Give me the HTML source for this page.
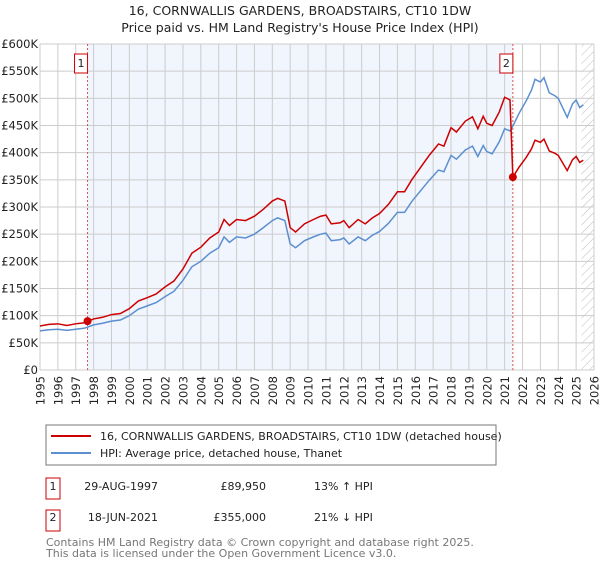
<!DOCTYPE html>
<html><head><meta charset="utf-8"><style>
body{margin:0;background:#fff;font-family:"Liberation Sans","DejaVu Sans",sans-serif;}
svg text{font-family:"DejaVu Sans","Liberation Sans",sans-serif;}
</style></head><body>
<svg width="600" height="560" xmlns="http://www.w3.org/2000/svg">
<defs><pattern id="hatch" width="6" height="6" patternUnits="userSpaceOnUse" patternTransform="rotate(45)"><line x1="0" y1="0" x2="0" y2="6" stroke="#bbb" stroke-width="1"/></pattern></defs>
<text x="300" y="15" font-size="12.5" text-anchor="middle" fill="#222">16, CORNWALLIS GARDENS, BROADSTAIRS, CT10 1DW</text>
<text x="300" y="32" font-size="12.5" text-anchor="middle" fill="#222">Price paid vs. HM Land Registry's House Price Index (HPI)</text>
<g id="plot"></g>
<rect x="46" y="425" width="450" height="40" fill="#fff" stroke="#777"/>
<line x1="51" y1="436" x2="91" y2="436" stroke="#cc0000" stroke-width="2"/>
<text x="100" y="440" font-size="11" fill="#222">16, CORNWALLIS GARDENS, BROADSTAIRS, CT10 1DW (detached house)</text>
<line x1="51" y1="453" x2="91" y2="453" stroke="#5b8fd0" stroke-width="2"/>
<text x="100" y="457" font-size="11" fill="#222">HPI: Average price, detached house, Thanet</text>
<g font-size="11" fill="#222">
<rect x="46" y="478" width="14" height="21" fill="#fff" stroke="#cc0000"/>
<text x="53" y="490" text-anchor="middle">1</text>
<text x="158" y="490" text-anchor="end">29-AUG-1997</text>
<text x="266" y="490" text-anchor="end">£89,950</text>
<text x="314" y="490">13% ↑ HPI</text>
<rect x="46" y="510" width="14" height="21" fill="#fff" stroke="#cc0000"/>
<text x="53" y="521" text-anchor="middle">2</text>
<text x="158" y="521" text-anchor="end">18-JUN-2021</text>
<text x="266" y="521" text-anchor="end">£355,000</text>
<text x="314" y="521">21% ↓ HPI</text>
</g>
<text x="46" y="546" font-size="11" fill="#777">Contains HM Land Registry data © Crown copyright and database right 2025.</text>
<text x="46" y="557" font-size="11" fill="#777">This data is licensed under the Open Government Licence v3.0.</text>
</svg>
<script>
const yearTicks=[1995,1996,1997,1998,1999,2000,2001,2002,2003,2004,2005,2006,2007,2008,2009,2010,2011,2012,2013,2014,2015,2016,2017,2018,2019,2020,2021,2022,2023,2024,2025,2026];
const priceTicks=[0,50,100,150,200,250,300,350,400,450,500,550,600];
const priceLabels=["£0","£50K","£100K","£150K","£200K","£250K","£300K","£350K","£400K","£450K","£500K","£550K","£600K"];
const hpiDates=[1995.0,1995.5,1996.0,1996.5,1997.0,1997.5,1998.0,1998.5,1999.0,1999.5,2000.0,2000.5,2001.0,2001.5,2002.0,2002.5,2003.0,2003.5,2004.0,2004.5,2005.0,2005.3,2005.6,2006.0,2006.5,2007.0,2007.5,2008.0,2008.3,2008.7,2009.0,2009.3,2009.8,2010.3,2010.7,2011.0,2011.3,2011.8,2012.0,2012.3,2012.8,2013.2,2013.6,2014.0,2014.5,2015.0,2015.4,2015.8,2016.3,2016.8,2017.3,2017.6,2018.0,2018.3,2018.8,2019.2,2019.5,2019.8,2020.0,2020.3,2020.7,2021.0,2021.3,2021.46,2021.8,2022.2,2022.5,2022.7,2023.0,2023.2,2023.5,2023.8,2024.0,2024.5,2024.8,2025.0,2025.2,2025.4];
const hpiValues=[72,74,75,73,75,77,83,86,90,92,100,112,118,124,135,145,165,190,200,215,225,245,235,245,243,250,262,275,280,275,232,225,238,245,250,252,238,240,243,232,245,238,248,255,270,290,290,310,330,350,368,365,395,388,405,412,393,413,402,398,420,444,440,449,472,495,515,535,530,538,510,505,500,465,490,497,483,488];
const propDates=[1995.0,1995.5,1996.0,1996.5,1997.0,1997.5,1998.0,1998.5,1999.0,1999.5,2000.0,2000.5,2001.0,2001.5,2002.0,2002.5,2003.0,2003.5,2004.0,2004.5,2005.0,2005.3,2005.6,2006.0,2006.5,2007.0,2007.5,2008.0,2008.3,2008.7,2009.0,2009.3,2009.8,2010.3,2010.7,2011.0,2011.3,2011.8,2012.0,2012.3,2012.8,2013.2,2013.6,2014.0,2014.5,2015.0,2015.4,2015.8,2016.3,2016.8,2017.3,2017.6,2018.0,2018.3,2018.8,2019.2,2019.5,2019.8,2020.0,2020.3,2020.7,2021.0,2021.3,2021.46,2021.8,2022.2,2022.5,2022.7,2023.0,2023.2,2023.5,2023.8,2024.0,2024.5,2024.8,2025.0,2025.2,2025.4];
const propValues=[81,84,85,82,85,87,94,97,102,104,113,127,133,140,153,164,186,215,226,243,254,277,266,277,275,283,296,311,316,311,262,254,269,277,283,285,269,271,275,262,277,269,280,288,305,328,328,350,373,396,416,412,446,438,458,466,444,467,454,450,475,502,497,355,373,391,407,423,419,425,403,399,395,367,387,393,382,386];
const saleDates=[1997.66,2021.46];
const salePrices=[89.95,355];
const saleLabels=["1","2"];
const X0=40,X1=594,Y0=370,Y1=44;
const xs=y=>X0+(y-1995)/(2026-1995)*(X1-X0);
const ys=v=>Y0-v/600*(Y0-Y1);
const NS="http://www.w3.org/2000/svg";
const g=document.getElementById('plot');
function mk(t,a){const e=document.createElementNS(NS,t);for(const k in a)e.setAttribute(k,a[k]);g.appendChild(e);return e;}
let e;
e=mk('rect',{x:xs(saleDates[0]),y:Y1,width:xs(saleDates[1])-xs(saleDates[0]),height:Y0-Y1,fill:'#eef3fc',opacity:0.8});


e=mk('rect',{x:xs(2025.3),y:Y1,width:X1-xs(2025.3),height:Y0-Y1,fill:'url(#hatch)'});


yearTicks.forEach(y=>{
 e=mk('line',{x1:xs(y),x2:xs(y),y1:Y1,y2:Y0,stroke:'#ccc','stroke-width':1});
 
 
 const tx=xs(y)+4.5,ty=376;
 e=mk('text',{x:tx,y:ty,'font-size':11.5,'text-anchor':'end',fill:'#222',transform:'rotate(-90 '+tx+' '+ty+')'});
 e.textContent=y;
 
 
});
priceTicks.forEach((v,i)=>{
 e=mk('line',{x1:X0,x2:X1,y1:ys(v),y2:ys(v),stroke:'#ccc','stroke-width':1});
 
 
 e=mk('text',{x:38,y:ys(v)+4,'font-size':11.5,'text-anchor':'end',fill:'#222'});
 e.textContent=priceLabels[i];
 
 
});
saleDates.forEach((d,i)=>{
 e=mk('line',{x1:xs(d),x2:xs(d),y1:Y1,y2:Y0,stroke:'#e05050','stroke-width':1,'stroke-dasharray':'2,2'});
 
 
});
e=mk('polyline',{points:hpiDates.map((d,i)=>xs(d)+','+ys(hpiValues[i])).join(' '),fill:'none',stroke:'#5b8fd0','stroke-width':1.5});


e=mk('polyline',{points:propDates.map((d,i)=>xs(d)+','+ys(propValues[i])).join(' '),fill:'none',stroke:'#cc0000','stroke-width':1.5});


saleDates.forEach((d,i)=>{
 e=mk('circle',{cx:xs(d),cy:ys(salePrices[i]),r:4,fill:'#cc0000'});
 
 
 e=mk('rect',{x:xs(d)-13,y:54,width:13,height:19,fill:'#fff',stroke:'#cc0000'});
 
 
 e=mk('text',{x:xs(d)-6.5,y:67,'font-size':11,'text-anchor':'middle',fill:'#222'});
 e.textContent=saleLabels[i];
 
 
});
</script>
</body></html>
